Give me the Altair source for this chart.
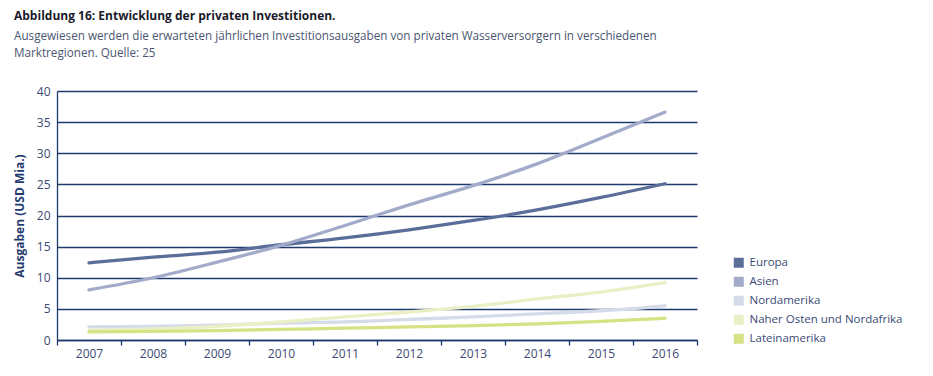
import altair as alt
import pandas as pd

years = ["2007", "2008", "2009", "2010", "2011", "2012", "2013", "2014", "2015", "2016"]
series_names = ["Europa", "Asien", "Nordamerika", "Naher Osten und Nordafrika", "Lateinamerika"]
europa = [12.4, 13.3, 14.1, 15.3, 16.4, 17.7, 19.2, 20.9, 22.9, 25.1]
asien = [8.05, 10.0, 12.5, 15.2, 18.4, 21.7, 24.8, 28.3, 32.4, 36.6]
nordamerika = [2.1, 2.2, 2.4, 2.7, 2.9, 3.3, 3.7, 4.2, 4.7, 5.5]
naher_osten = [1.6, 1.8, 2.2, 2.9, 3.7, 4.5, 5.4, 6.6, 7.7, 9.2]
lateinamerika = [1.3, 1.4, 1.5, 1.7, 1.9, 2.1, 2.3, 2.6, 3.0, 3.5]
colors = ["#5b6d99", "#a2abc9", "#d5dbe8", "#eaf0c6", "#d6e283"]

values = [europa, asien, nordamerika, naher_osten, lateinamerika]
rows = []
for name, vals in zip(series_names, values):
    for y, v in zip(years, vals):
        rows.append({"Jahr": y, "Wert": v, "Region": name})
df = pd.DataFrame(rows)

navy = "#1f3a6e"
txt = "#3a4a75"

x_enc = alt.X("Jahr:O", bandPosition=0.5,
              scale=alt.Scale(type="band", paddingInner=0, paddingOuter=0),
              axis=alt.Axis(title=None, labelAngle=0, tickBand="extent", domainColor=navy,
                            tickColor=navy, tickSize=5, domainWidth=1.3, tickWidth=1.3,
                            labelColor=txt, labelFontSize=12, labelFont="Open Sans",
                            labelPadding=3))
y_enc = alt.Y("Wert:Q", scale=alt.Scale(domain=[0, 40]),
              axis=alt.Axis(title="Ausgaben (USD Mia.)", values=list(range(0, 45, 5)),
                            grid=True, gridColor=navy, gridWidth=1.3, gridOpacity=1,
                            domainColor=navy, domainWidth=1.3, ticks=False,
                            labelColor=txt, labelFontSize=12, labelFont="Open Sans",
                            labelPadding=7, titleFont="Open Sans", titleFontSize=12,
                            titleFontWeight="bold", titleColor=navy, titlePadding=10))

base = alt.Chart(df).transform_calculate(
    order="indexof(['Lateinamerika','Nordamerika','Naher Osten und Nordafrika','Europa','Asien'], datum.Region)"
)

lines = base.mark_line(strokeWidth=3.3, interpolate="monotone", strokeCap="round").encode(
    x=x_enc, y=y_enc,
    color=alt.Color("Region:N", sort=series_names,
                    scale=alt.Scale(domain=series_names, range=colors), legend=None),
    order=alt.Order("order:Q"),
)

legend_marks = base.mark_square(size=0, opacity=0).encode(
    x=x_enc, y=y_enc,
    fill=alt.Fill("Region:N", sort=series_names,
                  scale=alt.Scale(domain=series_names, range=colors),
                  legend=alt.Legend(title=None, orient="none", legendX=676, legendY=166,
                                    symbolType="square", symbolSize=100, symbolStrokeWidth=0,
                                    labelFont="Open Sans", labelFontSize=11.5, labelColor=txt,
                                    rowPadding=6, symbolOpacity=1, labelOffset=5)),
)

chart = alt.layer(legend_marks, lines).properties(
    width=640, height=249,
    autosize=alt.AutoSizeParams(type="none"),
    padding={"left": 49, "top": 83, "right": 228, "bottom": 28},
    title=alt.TitleParams(
        text="Abbildung 16: Entwicklung der privaten Investitionen.",
        subtitle=["Ausgewiesen werden die erwarteten jährlichen Investitionsausgaben von privaten Wasserversorgern in verschiedenen",
                  "Marktregionen. Quelle: 25"],
        anchor="start", frame="group", dx=-43, offset=24,
        font="Open Sans", fontSize=12, fontWeight="bold", color="#1a1a2a",
        subtitleFont="Open Sans", subtitleFontSize=11.7, subtitleColor="#4a5670",
        subtitlePadding=8, subtitleLineHeight=17,
    ),
).configure_view(stroke=None)

chart.save("out.html", embed_options={"renderer": "svg", "actions": False})
